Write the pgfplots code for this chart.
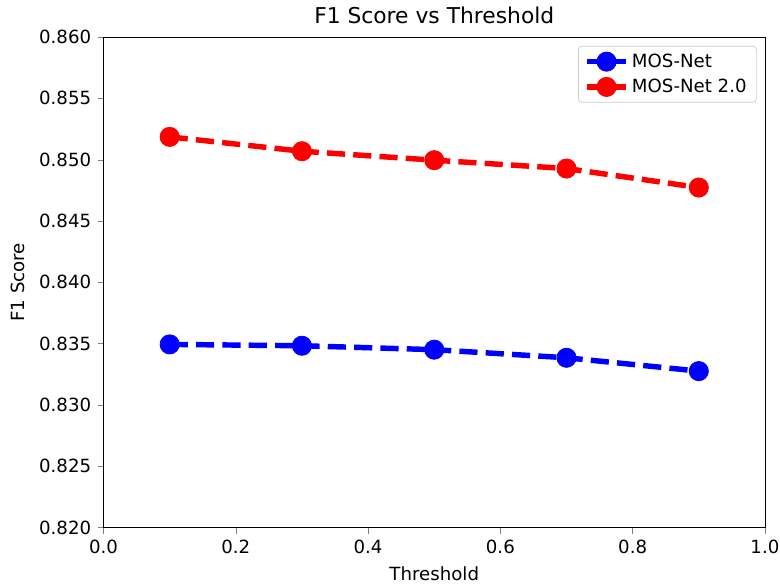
\documentclass[border=0pt]{standalone}
\usepackage{fontspec}
\setmainfont{DejaVu Sans}
\usepackage{pgfplots}
\pgfplotsset{compat=1.18}

\begin{document}
\begin{tikzpicture}
  \begin{axis}[
      name=ax,
      scale only axis,
      width=364pt, height=270pt,
      xmin=0, xmax=1, ymin=0.820, ymax=0.860,
      xtick={0,0.2,0.4,0.6,0.8,1.0},
      ytick={0.820,0.825,0.830,0.835,0.840,0.845,0.850,0.855,0.860},
      xticklabel style={/pgf/number format/.cd, fixed, fixed zerofill, precision=1},
      yticklabel style={/pgf/number format/.cd, fixed, fixed zerofill, precision=3},
      /pgf/number format/assume math mode=true,
      scaled y ticks=false,
      tick align=outside,
      tick pos=left,
      major tick length=3.3pt,
      font=\fontsize{10}{12}\selectfont,
      xlabel={Threshold},
      ylabel={F1 Score},
      xlabel style={at={(axis description cs:0.5,-0.094)}, anchor=center},
      ylabel style={at={(axis description cs:-0.129,0.5)}, anchor=center},
      legend cell align=left,
      legend style={draw=black!20, rounded corners=2pt, font=\fontsize{10}{12}\selectfont,
        at={(axis description cs:0.988,0.982)}, anchor=north east, row sep=1pt,
        inner xsep=3.5pt},
      legend image code/.code={
        \draw[#1, solid] (0pt,0pt) -- (21pt,0pt);
        \draw[#1, solid] plot coordinates {(10.5pt,0pt)};
      },
    ]
    \addplot[blue, line width=3pt, dash pattern=on 10pt off 4.5pt,
      mark=*, mark size=5.3pt, mark options={solid, line width=0.4pt, draw=blue, fill=blue}]
      coordinates {(0.1,0.83494) (0.3,0.83483) (0.5,0.83451) (0.7,0.83385) (0.9,0.83276)};
    \addlegendentry{MOS-Net}
    \addplot[red, line width=3pt, dash pattern=on 10pt off 4.5pt,
      mark=*, mark size=5.3pt, mark options={solid, line width=0.4pt, draw=red, fill=red}]
      coordinates {(0.1,0.85186) (0.3,0.85069) (0.5,0.84996) (0.7,0.84928) (0.9,0.84773)};
    \addlegendentry{MOS-Net 2.0}
  \end{axis}
  \node[font=\fontsize{12}{14}\selectfont, anchor=center] at ([yshift=12pt]ax.north) {F1 Score vs Threshold};
  \pgfresetboundingbox
  \path ([shift={(-57pt,-32.5pt)}]ax.south west) rectangle ([shift={(8.3pt,20.4pt)}]ax.north east);
\end{tikzpicture}
\end{document}
